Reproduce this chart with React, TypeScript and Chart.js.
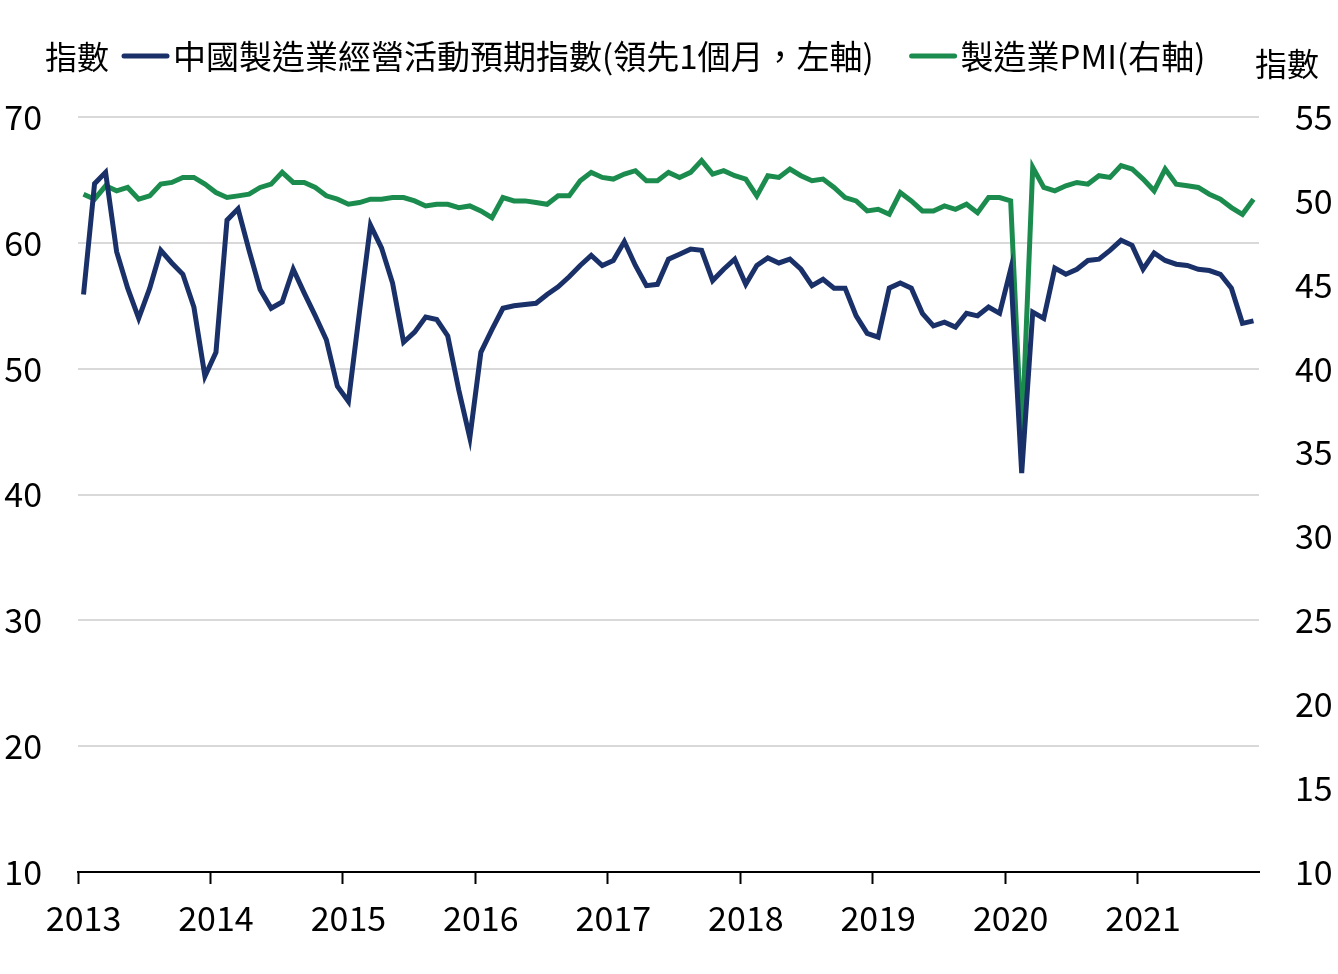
import { useEffect, useRef } from 'react';
import { Chart, registerables } from 'chart.js';

Chart.register(...registerables);

const FONT = '"Noto Sans CJK TC", "Noto Sans", sans-serif';

// Monthly categories: 2013-01 ... 2021-11
const years = [2013, 2014, 2015, 2016, 2017, 2018, 2019, 2020, 2021];
const monthsPerYear = ['01', '02', '03', '04', '05', '06', '07', '08', '09', '10', '11', '12'];
const categories: string[] = [];
years.forEach((y) => monthsPerYear.forEach((m) => categories.push(`${y}-${m}`)));
categories.splice(107); // last month shown: 2021-11

const expectLabel = '中國製造業經營活動預期指數(領先1個月，左軸)';
const pmiLabel = '製造業PMI(右軸)';
const axisTitle = '指數';

// 中國製造業經營活動預期指數 (left axis)
const expectIndex = [
  55.9, 64.7, 65.6, 59.3, 56.4, 54.0, 56.4, 59.4, 58.4, 57.5, 54.9, 49.4,
  51.3, 61.8, 62.7, 59.4, 56.3, 54.8, 55.3, 57.9, 56.0, 54.2, 52.3, 48.6,
  47.4, 54.5, 61.4, 59.6, 56.8, 52.1, 52.9, 54.1, 53.9, 52.6, 48.3, 44.5,
  51.3, 53.1, 54.8, 55.0, 55.1, 55.2, 55.9, 56.5, 57.3, 58.2, 59.0, 58.2,
  58.6, 60.1, 58.2, 56.6, 56.7, 58.7, 59.1, 59.5, 59.4, 57.0, 57.9, 58.7,
  56.7, 58.2, 58.8, 58.4, 58.7, 57.9, 56.6, 57.1, 56.4, 56.4, 54.2, 52.8,
  52.5, 56.4, 56.8, 56.4, 54.4, 53.4, 53.7, 53.3, 54.4, 54.2, 54.9, 54.4,
  57.9, 41.7, 54.5, 54.0, 58.0, 57.5, 57.9, 58.6, 58.7, 59.4, 60.2, 59.8,
  57.9, 59.2, 58.6, 58.3, 58.2, 57.9, 57.8, 57.5, 56.4, 53.6, 53.8,
];

// 製造業PMI (right axis)
const pmi = [
  50.4, 50.1, 50.9, 50.6, 50.8, 50.1, 50.3, 51.0, 51.1, 51.4, 51.4, 51.0,
  50.5, 50.2, 50.3, 50.4, 50.8, 51.0, 51.7, 51.1, 51.1, 50.8, 50.3, 50.1,
  49.8, 49.9, 50.1, 50.1, 50.2, 50.2, 50.0, 49.7, 49.8, 49.8, 49.6, 49.7,
  49.4, 49.0, 50.2, 50.0, 50.0, 49.9, 49.8, 50.3, 50.3, 51.2, 51.7, 51.4,
  51.3, 51.6, 51.8, 51.2, 51.2, 51.7, 51.4, 51.7, 52.4, 51.6, 51.8, 51.5,
  51.3, 50.3, 51.5, 51.4, 51.9, 51.5, 51.2, 51.3, 50.8, 50.2, 50.0, 49.4,
  49.5, 49.2, 50.5, 50.0, 49.4, 49.4, 49.7, 49.5, 49.8, 49.3, 50.2, 50.2,
  50.0, 35.7, 52.0, 50.8, 50.6, 50.9, 51.1, 51.0, 51.5, 51.4, 52.1, 51.9,
  51.3, 50.6, 51.9, 51.0, 50.9, 50.8, 50.4, 50.1, 49.6, 49.2, 50.1,
];

const leftTicks = [10, 20, 30, 40, 50, 60, 70];
const rightTicks = [10, 15, 20, 25, 30, 35, 40, 45, 50, 55];

const BLUE = '#1a3068';
const GREEN = '#1b8c4e';
const GRID = '#d9d9d9';

const headerPlugin = {
  id: 'header',
  afterDraw(chart: any) {
    const ctx = chart.ctx as CanvasRenderingContext2D;
    ctx.save();
    ctx.font = `32px ${FONT}`;
    ctx.fillStyle = '#000';
    ctx.textBaseline = 'middle';
    ctx.textAlign = 'left';
    ctx.fillText(axisTitle, 45, 57);
    ctx.fillText(axisTitle, 1255, 64);
    ctx.font = `33px ${FONT}`;
    let x = 124;
    const y = 56;
    chart.data.datasets.forEach((ds: any) => {
      ctx.strokeStyle = ds.borderColor;
      ctx.lineWidth = 5;
      ctx.lineCap = 'round';
      ctx.beginPath();
      ctx.moveTo(x, y);
      ctx.lineTo(x + 43, y);
      ctx.stroke();
      x += 49;
      ctx.fillStyle = '#000';
      ctx.fillText(ds.label, x, y);
      x += ctx.measureText(ds.label).width + 38;
    });
    ctx.restore();
  },
};

export default function App() {
  const ref = useRef<HTMLCanvasElement | null>(null);

  useEffect(() => {
    if (!ref.current) return;
    const chart = new Chart(ref.current, {
      type: 'line',
      data: {
        labels: categories,
        datasets: [
          {
            label: expectLabel,
            data: expectIndex,
            borderColor: BLUE,
            backgroundColor: BLUE,
            borderWidth: 5,
            pointRadius: 0,
            tension: 0,
            yAxisID: 'y',
          },
          {
            label: pmiLabel,
            data: pmi,
            borderColor: GREEN,
            backgroundColor: GREEN,
            borderWidth: 5,
            pointRadius: 0,
            tension: 0,
            yAxisID: 'y1',
          },
        ],
      },
      options: {
        animation: false,
        responsive: true,
        maintainAspectRatio: false,
        devicePixelRatio: 1,
        layout: { padding: { top: 117, bottom: 42, left: 0, right: 0 } },
        plugins: {
          legend: { display: false },
          tooltip: { enabled: false },
        },
        scales: {
          x: {
            type: 'category',
            offset: true,
            afterFit: (s: any) => {
              s.height = 60;
            },
            grid: {
              offset: true,
              drawOnChartArea: false,
              drawTicks: true,
              tickLength: 12,
              tickWidth: 2,
              tickColor: (c: any) =>
                c.index !== undefined && c.index % 12 === 0 ? '#000' : 'rgba(0,0,0,0)',
            },
            border: { display: true, color: '#000', width: 2 },
            ticks: {
              autoSkip: false,
              maxRotation: 0,
              minRotation: 0,
              padding: 14,
              color: '#000',
              font: { family: FONT, size: 34 },
              callback: (_v: any, i: number) => (i % 12 === 0 ? String(years[i / 12]) : ''),
            },
          },
          y: {
            position: 'left',
            min: 10,
            max: 70,
            afterFit: (s: any) => {
              s.width = 78;
            },
            afterBuildTicks: (s: any) => {
              s.ticks = leftTicks.map((v) => ({ value: v }));
            },
            grid: { color: GRID, lineWidth: 2, drawTicks: false },
            border: { display: false },
            ticks: {
              padding: 36,
              color: '#000',
              font: { family: FONT, size: 34 },
            },
          },
          y1: {
            position: 'right',
            min: 10,
            max: 55,
            afterFit: (s: any) => {
              s.width = 79;
            },
            afterBuildTicks: (s: any) => {
              s.ticks = rightTicks.map((v) => ({ value: v }));
            },
            grid: { display: false, drawTicks: false },
            border: { display: false },
            ticks: {
              padding: 36,
              color: '#000',
              font: { family: FONT, size: 34 },
            },
          },
        },
      },
      plugins: [headerPlugin],
    } as any);
    return () => chart.destroy();
  }, []);

  return (
    <div style={{ position: 'fixed', left: 0, top: 0, width: 1338, height: 974, background: '#fff' }}>
      <canvas ref={ref} />
    </div>
  );
}
